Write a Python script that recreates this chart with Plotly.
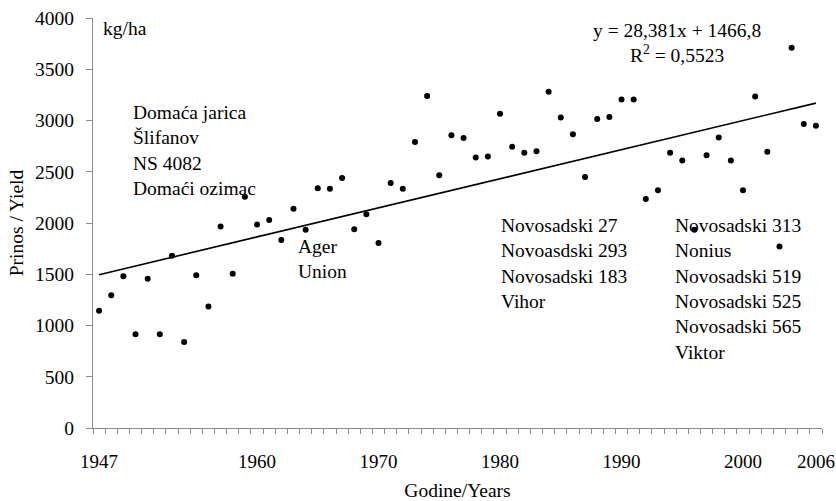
import plotly.graph_objects as go

years = list(range(1947, 2007))
yields = [1145, 1295, 1480, 915, 1455, 915, 1680, 840, 1490, 1185,
          1965, 1505, 2255, 1985, 2030, 1835, 2140, 1935, 2340, 2335,
          2440, 1940, 2085, 1805, 2390, 2335, 2790, 3240, 2465, 2855,
          2830, 2640, 2650, 3065, 2745, 2685, 2700, 3280, 3030, 2865,
          2450, 3015, 3035, 3205, 3205, 2235, 2320, 2685, 2610, 1935,
          2660, 2835, 2610, 2320, 3235, 2695, 1770, 3710, 2965, 2950]

slope = 28.381
intercept = 1466.8
r2_text = "0,5523"

label_years = [1947, 1960, 1970, 1980, 1990, 2000, 2006]
y_ticks = [0, 500, 1000, 1500, 2000, 2500, 3000, 3500, 4000]

trend_x = [years[0], years[-1]]
trend_y = [intercept + slope * 1, intercept + slope * len(years)]

FONT = "Liberation Serif"
FS = 19.5

fig = go.Figure()
fig.add_trace(go.Scatter(x=trend_x, y=trend_y, mode="lines",
                         line=dict(color="black", width=1.6), hoverinfo="skip"))
fig.add_trace(go.Scatter(x=years, y=yields, mode="markers",
                         marker=dict(color="black", size=6)))

def ann(x, y, text, xanchor="left", align="left"):
    fig.add_annotation(x=x, y=y, text=text, showarrow=False, xanchor=xanchor,
                       yanchor="middle", align=align,
                       font=dict(family=FONT, size=FS, color="black"))

ann(1947.16, 3902, "kg/ha")
ann(1949.63, 2711, "Domaća jarica<br>Šlifanov<br>NS 4082<br>Domaći ozimac")
ann(1963.2, 1644, "Ager<br>Union")
ann(1979.9, 1605, "Novosadski 27<br>Novoasdski 293<br>Novosadski 183<br>Vihor")
ann(1994.2, 1361, "Novosadski 313<br>Nonius<br>Novosadski 519<br>Novosadski 525<br>Novosadski 565<br>Viktor")
ann(1994.6, 3757, f"y = 28,381x + 1466,8<br>R<sup>2</sup> = {r2_text}", xanchor="center", align="center")

fig.update_layout(
    width=836, height=501,
    margin=dict(l=93, r=14, t=18, b=73),
    plot_bgcolor="white", paper_bgcolor="white",
    showlegend=False,
    font=dict(family=FONT, size=FS, color="black"),
)
fig.update_xaxes(
    range=[1946.5, 2006.5], tickmode="array", tickvals=label_years,
    ticktext=[str(v) for v in label_years], ticks="", showgrid=False,
    zeroline=False, showline=True, linecolor="#8c8c8c", linewidth=1.2,
    minor=dict(tick0=1946.5, dtick=1, ticks="outside", ticklen=5,
               tickcolor="#8c8c8c", showgrid=False),
    tickfont=dict(family=FONT, size=19), automargin=False,
    ticklabelstandoff=16,
    title=dict(text="Godine/Years", font=dict(family=FONT, size=FS), standoff=22),
)
fig.update_yaxes(
    range=[0, 4000], tickmode="array", tickvals=y_ticks, ticks="outside",
    ticklen=6, tickcolor="#8c8c8c", showgrid=False, zeroline=False,
    showline=True, linecolor="#8c8c8c", linewidth=1.2, ticklabelstandoff=8,
    automargin=False,
    title=dict(text="Prinos / Yield", font=dict(family=FONT, size=FS), standoff=6),
)

fig.write_html("out.html", config={"displayModeBar": False},
               post_script="document.body.style.margin='0';")
